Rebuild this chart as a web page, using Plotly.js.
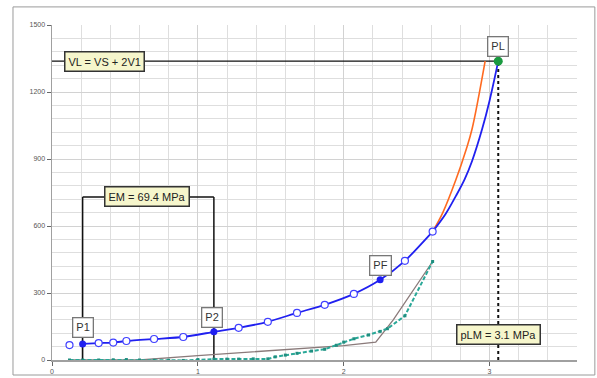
<!DOCTYPE html>
<html>
<head>
<meta charset="utf-8">
<script src="https://cdn.plot.ly/plotly-3.0.1.min.js"></script>
<style>html,body{margin:0;padding:0;background:#fff;}#chart{width:597px;height:378px;}</style>
</head>
<body>
<div id="chart"></div>
<script>
// Pressure (MPa) vs volume readings
const blueFirstX = [0.12];
const blueFirstY = [67];
const blueX = [0.21, 0.32, 0.42, 0.51, 0.70, 0.90, 1.11, 1.28, 1.48, 1.68, 1.87, 2.07, 2.25, 2.42, 2.61];
const blueY = [72, 76, 78, 85, 94, 103, 126, 144, 171, 211, 247, 296, 359, 444, 575];
const blueOpenX = [0.32, 0.42, 0.51, 0.70, 0.90, 1.28, 1.48, 1.68, 1.87, 2.07, 2.42, 2.61];
const blueOpenY = [76, 78, 85, 94, 103, 144, 171, 211, 247, 296, 444, 575];
const keyX = [0.21, 1.11, 2.25];
const keyY = [72, 126, 359];
const fitX = [2.61, 2.70, 2.77, 2.83, 2.88, 2.95, 3.00, 3.06];
const fitY = [575, 655, 735, 810, 890, 1035, 1160, 1338];
const orangeX = [2.61, 2.68, 2.77, 2.84, 2.88, 2.97];
const orangeY = [575, 660, 808, 943, 1033, 1338];
const greenX = [0.12, 0.21, 0.32, 0.42, 0.51, 0.60, 0.70, 0.80, 0.90, 1.00, 1.11, 1.20, 1.28, 1.38, 1.48, 1.53, 1.60, 1.68, 1.78, 1.87, 1.95, 2.00, 2.07, 2.17, 2.25, 2.30, 2.42, 2.61];
const greenY = [0, 0, 0, 1, 2, 0, -1, -1, -2, 2, 4, 4, 4, 5, 5, 14, 22, 30, 40, 48, 66, 80, 95, 112, 128, 140, 198, 441];
const grayX = [0.12, 0.60, 1.00, 2.00, 2.22, 2.34, 2.61];
const grayY = [0, 0, 20, 64, 80, 180, 441];
const plX = [3.06];
const plY = [1338];
const emY = 730;
const xTicks = [0, 1, 2, 3];
const yTicks = [0, 300, 600, 900, 1200, 1500];

const blue = '#2020f0';
const traces = [
  {x: grayX, y: grayY, mode: 'lines', line: {color: '#8a7a7a', width: 1.3}, hoverinfo: 'skip'},
  {x: greenX, y: greenY, mode: 'lines+markers', line: {color: '#2aa898', width: 2, dash: '4px,2px'},
   marker: {symbol: 'square', size: 3, color: '#1f8f80'}, hoverinfo: 'skip'},
  {x: orangeX, y: orangeY, mode: 'lines', line: {color: '#ff6a20', width: 1.6, shape: 'spline'}, hoverinfo: 'skip'},
  {x: fitX, y: fitY, mode: 'lines', line: {color: blue, width: 1.8, shape: 'spline'}, hoverinfo: 'skip'},
  {x: blueX, y: blueY, mode: 'lines', line: {color: blue, width: 1.8, shape: 'spline', smoothing: 0.6}, hoverinfo: 'skip'},
  {x: blueOpenX.concat(blueFirstX), y: blueOpenY.concat(blueFirstY), mode: 'markers',
   marker: {symbol: 'circle', size: 7, color: '#ffffff', line: {color: '#4040ff', width: 1.2}}, hoverinfo: 'skip'},
  {x: keyX, y: keyY, mode: 'markers', marker: {symbol: 'circle', size: 7, color: blue}, hoverinfo: 'skip'},
  {x: plX, y: plY, mode: 'markers', marker: {symbol: 'circle', size: 9, color: '#1a9a40'}, hoverinfo: 'skip'}
];

const shapes = [
  // outer frame
  {type: 'rect', xref: 'paper', yref: 'paper', x0: -0.0743, x1: 1.034, y0: -0.0448, y1: 1.054, line: {color: '#9a9a9a', width: 1}},
  // VL horizontal
  {type: 'line', xref: 'x', yref: 'y', x0: 0, x1: plX[0], y0: plY[0], y1: plY[0], line: {color: '#111', width: 1.3}, layer: 'between'},
  // PL vertical dotted
  {type: 'line', xref: 'x', yref: 'y', x0: plX[0], x1: plX[0], y0: 0, y1: plY[0], line: {color: '#111', width: 2, dash: 'dot'}, layer: 'between'},
  // EM bracket
  {type: 'line', xref: 'x', yref: 'y', x0: keyX[0], x1: keyX[0], y0: 0, y1: emY, line: {color: '#111', width: 1.5}, layer: 'between'},
  {type: 'line', xref: 'x', yref: 'y', x0: keyX[1], x1: keyX[1], y0: 0, y1: emY, line: {color: '#111', width: 1.5}, layer: 'between'},
  {type: 'line', xref: 'x', yref: 'y', x0: keyX[0], x1: keyX[1], y0: emY, y1: emY, line: {color: '#111', width: 1.5}, layer: 'between'}
];

const boxFont = {family: 'Liberation Sans, Arial, sans-serif', size: 11, color: '#222'};
const yellow = {bgcolor: '#f6f6cc', bordercolor: '#333', borderwidth: 1.5, borderpad: 3, font: boxFont, showarrow: false, xref: 'x', yref: 'y'};
const label = {bgcolor: '#ffffff', bordercolor: '#777', borderwidth: 1.3, borderpad: 3, font: {family: 'Liberation Sans, Arial, sans-serif', size: 11, color: '#333'}, showarrow: false, xref: 'x', yref: 'y'};
const annotations = [
  Object.assign({text: 'VL = VS + 2V1', x: 0.363, y: plY[0]}, yellow),
  Object.assign({text: 'EM = 69.4 MPa', x: 0.65, y: emY}, yellow),
  Object.assign({text: 'pLM = 3.1 MPa', x: plX[0], y: 116}, yellow),
  Object.assign({text: 'PL', x: 3.06, y: 1402}, label),
  Object.assign({text: 'P1', x: 0.21, y: 145}, label),
  Object.assign({text: 'P2', x: 1.10, y: 190}, label),
  Object.assign({text: 'PF', x: 2.25, y: 421}, label)
];

const layout = {
  width: 597, height: 378,
  margin: {l: 52, r: 20, t: 25, b: 18, pad: 0},
  paper_bgcolor: '#ffffff', plot_bgcolor: '#ffffff',
  showlegend: false,
  font: {family: 'Liberation Sans, Arial, sans-serif', size: 7, color: '#555'},
  xaxis: {range: [0, 3.6], tickvals: xTicks, ticktext: xTicks.map(String), showgrid: true, gridcolor: '#d2d2d2', gridwidth: 1,
    minor: {dtick: 0.2, tick0: 0, showgrid: true, gridcolor: '#dedede', gridwidth: 1},
    showline: true, linecolor: '#a0a0a0', linewidth: 1.5, ticks: 'outside', ticklen: 4, tickcolor: '#666',
    zeroline: false, tickfont: {size: 7, color: '#555'}, fixedrange: true},
  yaxis: {range: [0, 1500], tickvals: yTicks, ticktext: yTicks.map(String), showgrid: true, gridcolor: '#d2d2d2', gridwidth: 1,
    minor: {dtick: 60, tick0: 0, showgrid: true, gridcolor: '#dedede', gridwidth: 1},
    showline: true, linecolor: '#a0a0a0', linewidth: 1.5, ticks: 'outside', ticklen: 4, tickcolor: '#666',
    zeroline: false, tickfont: {size: 7, color: '#555'}, fixedrange: true},
  shapes: shapes,
  annotations: annotations
};

Plotly.newPlot('chart', traces, layout, {displayModeBar: false, staticPlot: true});
</script>
</body>
</html>
